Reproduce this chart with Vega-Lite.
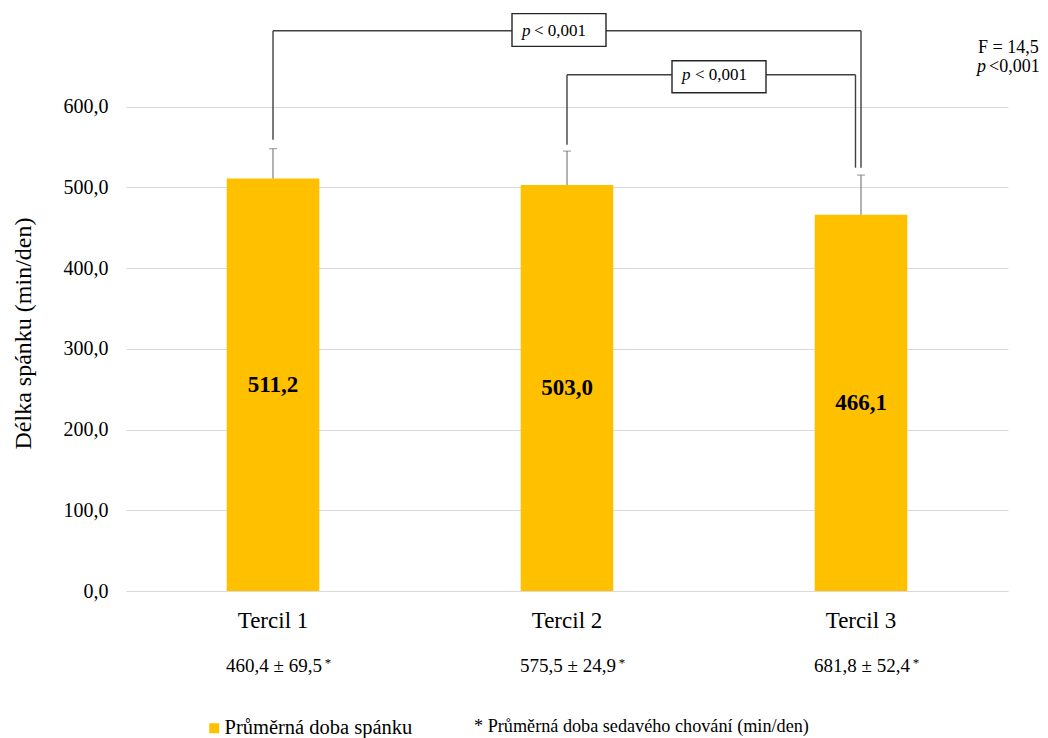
{
  "$schema": "https://vega.github.io/schema/vega-lite/v6.json",
  "autosize": "none",
  "width": 882,
  "height": 565,
  "padding": {"left": 126, "top": 26, "right": 40, "bottom": 147},
  "background": "white",
  "config": {
    "view": {"stroke": null},
    "font": "Liberation Serif",
    "text": {"font": "Liberation Serif"},
    "axis": {"labelFont": "Liberation Serif", "titleFont": "Liberation Serif"},
    "legend": {"labelFont": "Liberation Serif", "titleFont": "Liberation Serif"},
    "locale": {
      "number": {"decimal": ",", "thousands": " ", "grouping": [3], "currency": ["", ""]}
    }
  },
  "datasets": {
    "terciles": [
      {"tercil": "Tercil 1", "mean": 511.2, "upper": 548.0, "sedentary": "460,4 ± 69,5"},
      {"tercil": "Tercil 2", "mean": 503.0, "upper": 545.0, "sedentary": "575,5 ± 24,9"},
      {"tercil": "Tercil 3", "mean": 466.1, "upper": 515.3, "sedentary": "681,8 ± 52,4"}
    ]
  },
  "encoding": {
    "x": {
      "field": "tercil",
      "type": "nominal",
      "sort": ["Tercil 1", "Tercil 2", "Tercil 3"],
      "scale": {"domain": ["Tercil 1", "Tercil 2", "Tercil 3"], "paddingInner": 0.685, "paddingOuter": 0.3425},
      "axis": {
        "title": null,
        "labelAngle": 0,
        "labelFont": "Liberation Serif",
        "labelFontSize": 23,
        "labelColor": "#000000",
        "labelPadding": 18,
        "ticks": false,
        "tickSize": 0,
        "domain": false,
        "grid": false
      }
    }
  },
  "layer": [
    {
      "data": {"name": "terciles"},
      "mark": {"type": "bar", "color": "#FFC000"},
      "encoding": {
        "y": {
          "field": "mean",
          "type": "quantitative",
          "scale": {"domain": [0, 700], "nice": false},
          "axis": {
            "values": [0, 100, 200, 300, 400, 500, 600],
            "format": ".1f",
            "title": "Délka spánku (min/den)",
            "titleFont": "Liberation Serif",
            "titleFontSize": 24,
            "titleFontWeight": "normal",
            "titleColor": "#000000",
            "titleAngle": 270,
            "titleAlign": "center",
            "titleBaseline": "alphabetic",
            "titleX": -96,
            "titleY": 307,
            "labelFont": "Liberation Serif",
            "labelFontSize": 20,
            "labelColor": "#000000",
            "labelPadding": 18,
            "ticks": false,
            "tickSize": 0,
            "domain": false,
            "grid": true,
            "gridColor": "#d9d9d9",
            "gridWidth": 1
          }
        },
        "color": {
          "datum": "Průměrná doba spánku",
          "type": "nominal",
          "scale": {"range": ["#FFC000"]},
          "legend": {
            "title": null,
            "orient": "none",
            "legendX": 78,
            "legendY": 692,
            "padding": 0,
            "symbolType": "square",
            "symbolSize": 100,
            "symbolStrokeWidth": 0,
            "labelFont": "Liberation Serif",
            "labelFontSize": 20.5,
            "labelLimit": 400,
            "labelColor": "#000000",
            "labelOffset": 0
          }
        }
      }
    },
    {
      "data": {"name": "terciles"},
      "mark": {"type": "rule", "color": "#7f7f7f", "strokeWidth": 1.2},
      "encoding": {
        "y": {"field": "mean", "type": "quantitative"},
        "y2": {"field": "upper"}
      }
    },
    {
      "data": {"name": "terciles"},
      "mark": {"type": "tick", "color": "#7f7f7f", "size": 8, "thickness": 1.2},
      "encoding": {
        "y": {"field": "upper", "type": "quantitative"}
      }
    },
    {
      "data": {"name": "terciles"},
      "transform": [{"calculate": "datum.mean / 2", "as": "mid"}],
      "mark": {"type": "text", "font": "Liberation Serif", "fontSize": 23, "fontWeight": "bold", "color": "#000000", "baseline": "middle"},
      "encoding": {
        "y": {"field": "mid", "type": "quantitative"},
        "text": {"field": "mean", "type": "quantitative", "format": ".1f"}
      }
    },
    {
      "data": {"name": "terciles"},
      "mark": {"type": "text", "font": "Liberation Serif", "fontSize": 19, "color": "#000000", "baseline": "alphabetic", "dx": 1, "dy": 81},
      "encoding": {
        "y": {"datum": 0, "type": "quantitative"},
        "text": {"field": "sedentary"}
      }
    },
    {
      "data": {"name": "terciles"},
      "mark": {"type": "text", "font": "Liberation Serif", "fontSize": 13, "color": "#000000", "baseline": "middle", "dx": 55, "dy": 72},
      "encoding": {
        "y": {"datum": 0, "type": "quantitative"},
        "text": {"value": "*"}
      }
    },
    {
      "data": {"values": [
        {"tercil": "Tercil 1", "low": 559.0, "level": 694.2},
        {"tercil": "Tercil 3", "low": 524.4, "level": 694.2},
        {"tercil": "Tercil 2", "low": 552.9, "level": 639.6}
      ]},
      "mark": {"type": "rule", "color": "#404040", "strokeWidth": 1.4},
      "encoding": {
        "y": {"field": "low", "type": "quantitative"},
        "y2": {"field": "level"}
      }
    },
    {
      "data": {"values": [{"tercil": "Tercil 3", "low": 524.4, "level": 639.6}]},
      "mark": {"type": "rule", "color": "#404040", "strokeWidth": 1.4, "xOffset": -5.5},
      "encoding": {
        "y": {"field": "low", "type": "quantitative"},
        "y2": {"field": "level"}
      }
    },
    {
      "data": {"values": [{"tercil": "Tercil 1", "to": "Tercil 3", "level": 694.2}]},
      "mark": {"type": "rule", "color": "#404040", "strokeWidth": 1.4},
      "encoding": {
        "x2": {"field": "to"},
        "y": {"field": "level", "type": "quantitative"}
      }
    },
    {
      "data": {"values": [{"tercil": "Tercil 2", "to": "Tercil 3", "level": 639.6}]},
      "mark": {"type": "rule", "color": "#404040", "strokeWidth": 1.4, "x2Offset": -5.5},
      "encoding": {
        "x2": {"field": "to"},
        "y": {"field": "level", "type": "quantitative"}
      }
    },
    {
      "data": {"values": [{"tercil": "Tercil 2", "top": 715.3, "bottom": 674.7}]},
      "mark": {"type": "bar", "width": 94, "fill": "white", "stroke": "#262626", "strokeWidth": 1.4, "xOffset": -8},
      "encoding": {
        "y": {"field": "top", "type": "quantitative"},
        "y2": {"field": "bottom"}
      }
    },
    {
      "data": {"values": [{"tercil": "Tercil 3", "top": 657.0, "bottom": 617.3}]},
      "mark": {"type": "bar", "width": 94, "fill": "white", "stroke": "#262626", "strokeWidth": 1.4, "xOffset": -142},
      "encoding": {
        "y": {"field": "top", "type": "quantitative"},
        "y2": {"field": "bottom"}
      }
    },
    {
      "data": {"values": [{"tercil": "Tercil 2", "level": 694.2}]},
      "mark": {"type": "text", "font": "Liberation Serif", "fontSize": 17, "fontStyle": "italic", "color": "#000000", "align": "left", "baseline": "middle", "dx": -45},
      "encoding": {
        "y": {"field": "level", "type": "quantitative"},
        "text": {"value": "p"}
      }
    },
    {
      "data": {"values": [{"tercil": "Tercil 2", "level": 694.2}]},
      "mark": {"type": "text", "font": "Liberation Serif", "fontSize": 17, "color": "#000000", "align": "left", "baseline": "middle", "dx": -33},
      "encoding": {
        "y": {"field": "level", "type": "quantitative"},
        "text": {"value": "< 0,001"}
      }
    },
    {
      "data": {"values": [{"tercil": "Tercil 3", "level": 639.6}]},
      "mark": {"type": "text", "font": "Liberation Serif", "fontSize": 17, "fontStyle": "italic", "color": "#000000", "align": "left", "baseline": "middle", "dx": -179},
      "encoding": {
        "y": {"field": "level", "type": "quantitative"},
        "text": {"value": "p"}
      }
    },
    {
      "data": {"values": [{"tercil": "Tercil 3", "level": 639.6}]},
      "mark": {"type": "text", "font": "Liberation Serif", "fontSize": 17, "color": "#000000", "align": "left", "baseline": "middle", "dx": -166},
      "encoding": {
        "y": {"field": "level", "type": "quantitative"},
        "text": {"value": "< 0,001"}
      }
    },
    {
      "data": {"values": [{"tercil": "Tercil 3", "line": 666.4}]},
      "mark": {"type": "text", "font": "Liberation Serif", "fontSize": 18, "color": "#000000", "align": "left", "baseline": "alphabetic", "dx": 117},
      "encoding": {
        "y": {"field": "line", "type": "quantitative"},
        "text": {"value": "F = 14,5"}
      }
    },
    {
      "data": {"values": [{"tercil": "Tercil 3", "line": 643.4}]},
      "mark": {"type": "text", "font": "Liberation Serif", "fontSize": 18, "fontStyle": "italic", "color": "#000000", "align": "left", "baseline": "alphabetic", "dx": 116},
      "encoding": {
        "y": {"field": "line", "type": "quantitative"},
        "text": {"value": "p"}
      }
    },
    {
      "data": {"values": [{"tercil": "Tercil 3", "line": 643.4}]},
      "mark": {"type": "text", "font": "Liberation Serif", "fontSize": 18, "color": "#000000", "align": "left", "baseline": "alphabetic", "dx": 128},
      "encoding": {
        "y": {"field": "line", "type": "quantitative"},
        "text": {"value": "<0,001"}
      }
    },
    {
      "data": {"values": [{"tercil": "Tercil 2"}]},
      "mark": {"type": "text", "font": "Liberation Serif", "fontSize": 18.2, "color": "#000000", "align": "left", "baseline": "alphabetic", "dx": -93, "dy": 141},
      "encoding": {
        "y": {"datum": 0, "type": "quantitative"},
        "text": {"value": "* Průměrná doba sedavého chování (min/den)"}
      }
    }
  ]
}
